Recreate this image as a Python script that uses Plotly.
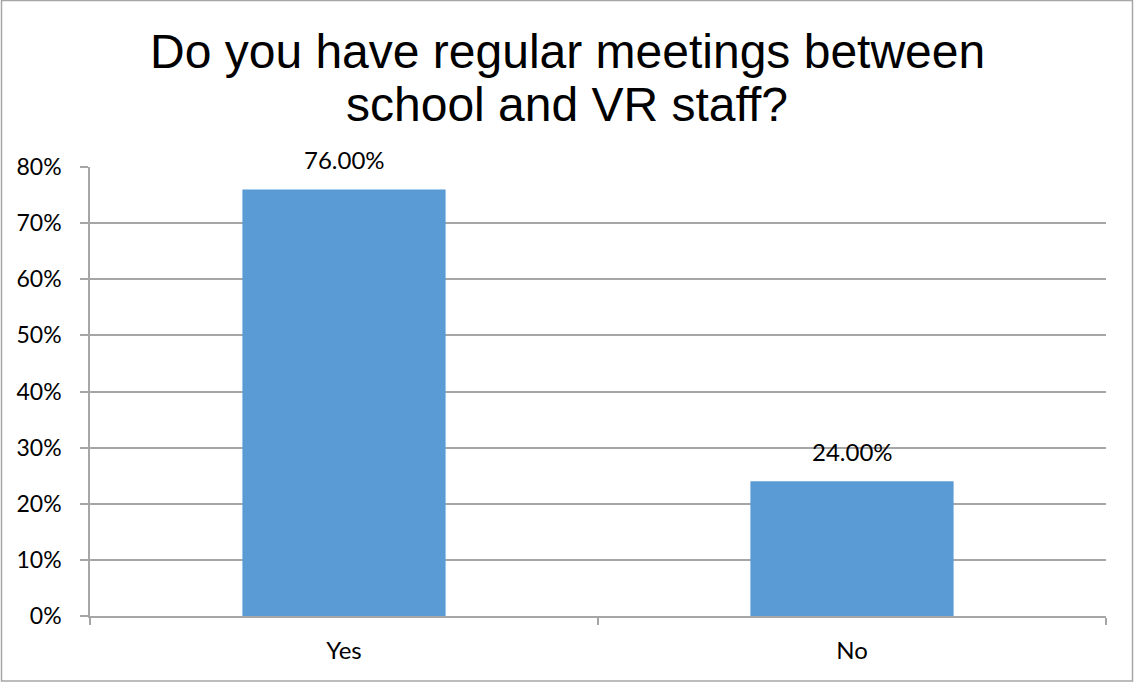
import plotly.graph_objects as go

categories = ["Yes", "No"]
values = [0.76, 0.24]
labels = ["76.00%", "24.00%"]
title_lines = ["Do you have regular meetings between", "school and VR staff?"]

W, H = 1134, 684
L, R, T, B = 90, 28, 167, 68
pw, ph = W - L - R, H - T - B

def px_x(x):
    return (x - L) / pw

def px_y(y):
    return (H - B - y) / ph

fig = go.Figure()
fig.add_trace(go.Bar(x=categories, y=values, marker=dict(color="#5B9BD5", line=dict(width=0)),
                     hoverinfo="skip"))

for c, v, t in zip(categories, values, labels):
    fig.add_annotation(x=c, y=v, text=t, showarrow=False, yanchor="bottom", yshift=13,
                       font=dict(family="Lato", size=24, color="#000000"))

for i, line in enumerate(title_lines):
    fig.add_annotation(xref="paper", yref="paper", x=px_x(W / 2), y=px_y([67, 120][i]),
                       xanchor="center", yanchor="bottom", yshift=-13, text=line, showarrow=False,
                       font=dict(family="Liberation Sans, Arial", size=48, color="#000000"))

fig.add_shape(type="rect", xref="paper", yref="paper",
              x0=px_x(1.5), x1=px_x(1132.5), y0=px_y(681), y1=px_y(0.5),
              line=dict(color="#A6A6A6", width=1.5), layer="below")

fig.update_layout(
    width=W, height=H,
    margin=dict(l=L, r=R, t=T, b=B),
    paper_bgcolor="white", plot_bgcolor="white",
    bargap=0.6, showlegend=False,
    font=dict(family="Lato", size=24, color="#000000"),
)
fig.update_xaxes(showline=True, linecolor="#A6A6A6", linewidth=1.5, ticks="outside",
                 tickson="boundaries", ticklen=7, tickcolor="#A6A6A6", tickwidth=1.5,
                 showgrid=False, ticklabelstandoff=12, tickfont=dict(family="Lato", size=24))
fig.update_yaxes(range=[0, 0.8], dtick=0.1, tickformat=".0%", showline=True,
                 linecolor="#A6A6A6", linewidth=1.5, ticks="outside", ticklen=8,
                 tickcolor="#A6A6A6", tickwidth=1.5, gridcolor="#A6A6A6", gridwidth=1.5,
                 zeroline=False, ticklabelstandoff=14, tickfont=dict(family="Lato", size=23))

fig.write_html("out.html", config={"displayModeBar": False},
               post_script="document.body.style.margin='0';document.body.style.overflow='hidden';")
